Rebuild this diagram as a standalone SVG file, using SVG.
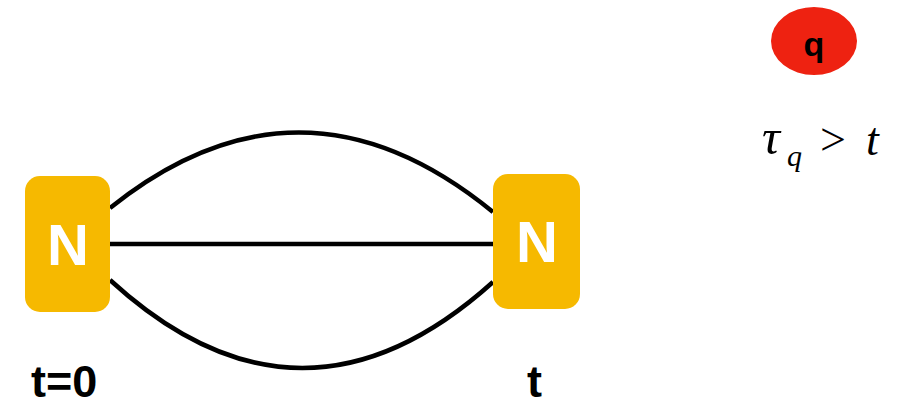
<svg xmlns="http://www.w3.org/2000/svg" width="908" height="407" viewBox="0 0 908 407">
<style>
.node{fill:#F6B900}
.nlab{fill:#fff;font-family:"Liberation Sans",Arial,sans-serif;font-weight:bold;font-size:58px;text-anchor:middle}
.edge{fill:none;stroke:#000;stroke-width:4.5}
.lab{font-family:"Liberation Sans",Arial,sans-serif;font-weight:bold;font-size:45px;fill:#000}
.math{font-family:"Liberation Serif","Times New Roman",serif;font-style:italic;fill:#000}
</style>
<rect width="908" height="407" fill="#fff"/>
<g id="connectors">
<path class="edge" d="M110,208 Q301,55 493,212"/>
<line class="edge" x1="110" y1="244" x2="493" y2="244"/>
<path class="edge" d="M110,280 Q301,455 493,282"/>
</g>
<g id="node-start">
<rect class="node" x="25" y="176" width="85" height="136" rx="15"/>
<text class="nlab" x="68" y="265">N</text>
</g>
<g id="node-end">
<rect class="node" x="493" y="174" width="87" height="135" rx="15"/>
<text class="nlab" x="537" y="262">N</text>
</g>
<g id="node-q">
<ellipse cx="814" cy="41" rx="43" ry="34" fill="#EE2211"/>
<text x="814" y="56" font-family="Liberation Sans,Arial,sans-serif" font-weight="bold" font-size="34" text-anchor="middle">q</text>
</g>
<text class="lab" x="31" y="397">t=0</text>
<text class="lab" x="527" y="397">t</text>
<text class="math" x="762" y="154" font-size="50">τ</text>
<text class="math" x="787" y="166" font-size="30">q</text>
<text x="820" y="155" font-family="Liberation Serif,Times New Roman,serif" font-size="46">&gt;</text>
<text class="math" x="866" y="155" font-size="46">t</text>
</svg>
